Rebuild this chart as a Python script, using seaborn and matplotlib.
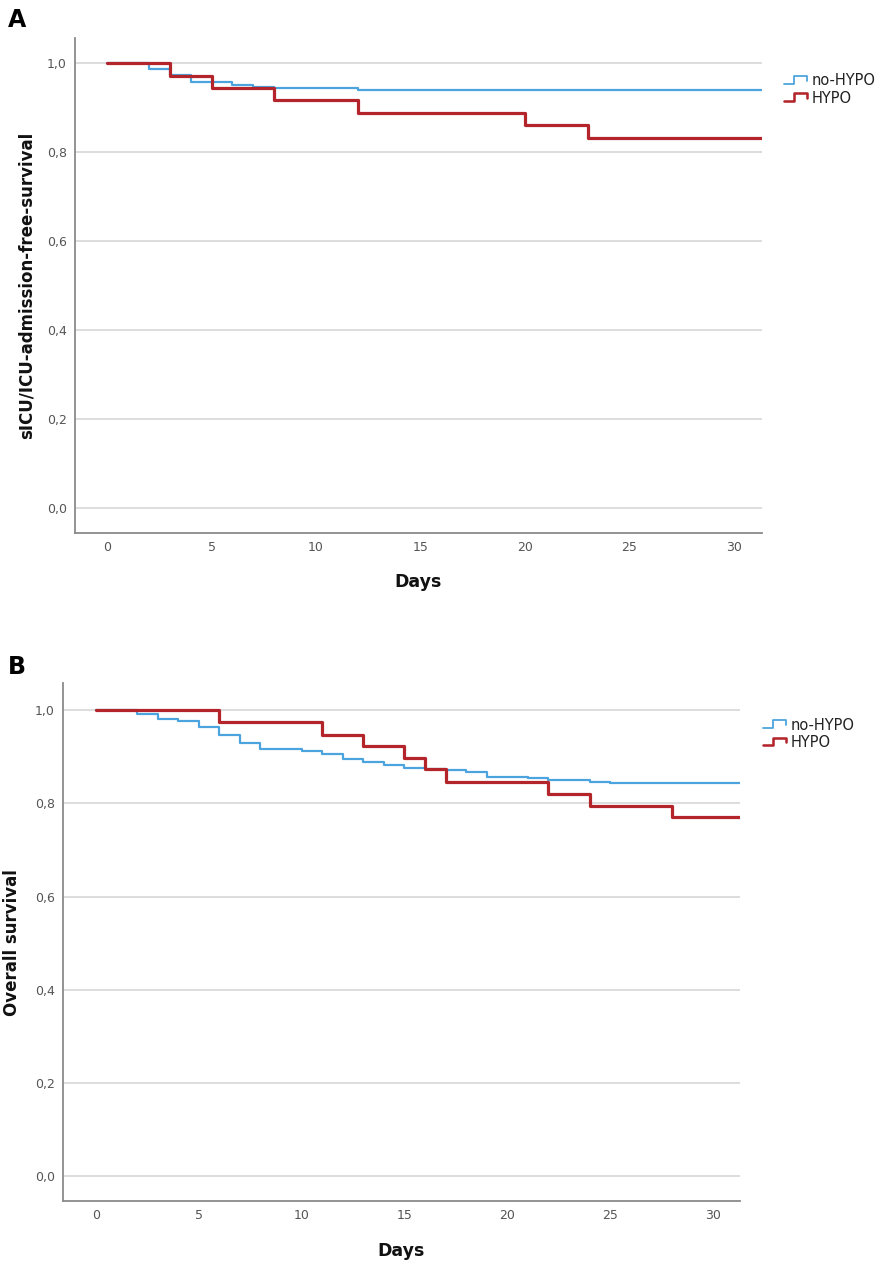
import numpy as np
import pandas as pd
import matplotlib
matplotlib.use("Agg")
import matplotlib.pyplot as plt
from matplotlib.lines import Line2D
from matplotlib.legend_handler import HandlerBase
from matplotlib.ticker import FuncFormatter
import seaborn as sns

# --- data ---
# Panel A: sICU/ICU-admission-free survival
a_nohypo_days = [0, 2, 3, 4, 6, 7, 8, 12, 32]
a_nohypo_surv = [1.0, 0.986, 0.973, 0.957, 0.951, 0.947, 0.944, 0.940, 0.940]
a_hypo_days = [0, 3, 5, 8, 12, 20, 23, 32]
a_hypo_surv = [1.0, 0.972, 0.944, 0.917, 0.889, 0.861, 0.833, 0.833]

# Panel B: overall survival
b_nohypo_days = [0, 2, 3, 4, 5, 6, 7, 8, 10, 11, 12, 13, 14, 15, 16, 17, 18,
                 19, 21, 22, 24, 25, 32]
b_nohypo_surv = [1.0, 0.993, 0.982, 0.977, 0.964, 0.946, 0.930, 0.916, 0.912,
                 0.906, 0.896, 0.889, 0.882, 0.876, 0.873, 0.871, 0.868, 0.857,
                 0.854, 0.850, 0.846, 0.843, 0.843]
b_hypo_days = [0, 6, 11, 13, 15, 16, 17, 22, 24, 28, 32]
b_hypo_surv = [1.0, 0.975, 0.948, 0.923, 0.898, 0.873, 0.846, 0.820, 0.795,
               0.771, 0.771]

groups = ["no-HYPO", "HYPO"]
x_ticks = [0, 5, 10, 15, 20, 25, 30]
y_ticks = [0.0, 0.2, 0.4, 0.6, 0.8, 1.0]

colors = {"no-HYPO": "#4ba4dd", "HYPO": "#b3242b"}
widths = {"no-HYPO": 1.6, "HYPO": 2.3}


def make_long(nohypo_d, nohypo_s, hypo_d, hypo_s):
    parts = [
        pd.DataFrame({"day": nohypo_d, "surv": nohypo_s, "group": "no-HYPO"}),
        pd.DataFrame({"day": hypo_d, "surv": hypo_s, "group": "HYPO"}),
    ]
    return pd.concat(parts, ignore_index=True)


class StepHandler(HandlerBase):
    # SPSS-style little step glyph in the legend
    def create_artists(self, legend, orig_handle, xdescent, ydescent,
                       width, height, fontsize, trans):
        x0 = -xdescent
        xs = [x0, x0 + 0.45 * width, x0 + 0.45 * width, x0 + width, x0 + width]
        ys = [-ydescent + f * height for f in (0.15, 0.15, 0.9, 0.9, 0.45)]
        ln = Line2D(xs, ys, color=orig_handle.get_color(),
                    lw=orig_handle.get_linewidth() * 0.8, transform=trans)
        return [ln]


sns.set_style("white")
plt.rcParams["font.family"] = ["DejaVu Sans"]

fig = plt.figure(figsize=(8.87, 12.63), dpi=100)
ax_a = fig.add_axes([0.0846, 0.578, 0.7745, 0.392])
ax_b = fig.add_axes([0.071, 0.049, 0.763, 0.410])

panels = [
    (ax_a, make_long(a_nohypo_days, a_nohypo_surv, a_hypo_days, a_hypo_surv),
     "sICU/ICU-admission-free-survival", (-1.53, 31.34), (-0.056, 1.057),
     -0.058, -0.081, (1.023, 0.94)),
    (ax_b, make_long(b_nohypo_days, b_nohypo_surv, b_hypo_days, b_hypo_surv),
     "Overall survival", (-1.6, 31.3), (-0.054, 1.058),
     -0.062, -0.079, (1.025, 0.945)),
]

comma_fmt = FuncFormatter(lambda v, _: f"{v:.1f}".replace(".", ","))

for ax, df, ylabel, xlim, ylim, ylab_x, xlab_y, leg_pos in panels:
    for y in y_ticks:
        ax.axhline(y, color="#d3d3d3", lw=1.1, zorder=0)
    sns.lineplot(data=df, x="day", y="surv", hue="group", hue_order=groups,
                 size="group", sizes=widths, palette=colors,
                 drawstyle="steps-post", estimator=None, legend=False, ax=ax)
    ax.set_xlim(*xlim)
    ax.set_ylim(*ylim)
    ax.set_xticks(x_ticks)
    ax.set_yticks(y_ticks)
    ax.yaxis.set_major_formatter(comma_fmt)
    ax.tick_params(length=0, labelsize=9, colors="#555555", pad=6)
    for s in ["top", "right"]:
        ax.spines[s].set_visible(False)
    for s in ["left", "bottom"]:
        ax.spines[s].set_color("#8a8a8a")
        ax.spines[s].set_linewidth(1.3)
    ax.set_xlabel("Days", fontsize=12.5, fontweight="bold", color="#111111")
    ax.set_ylabel(ylabel, fontsize=12, fontweight="bold", color="#111111")
    ax.xaxis.set_label_coords(0.5, xlab_y)
    ax.yaxis.set_label_coords(ylab_x, 0.5)

    handles = [Line2D([], [], color=colors[g], lw=widths[g]) for g in groups]
    leg = ax.legend(handles, groups, loc="upper left", bbox_to_anchor=leg_pos,
                    frameon=False, fontsize=10.5, handlelength=1.6,
                    handletextpad=0.3, labelspacing=0.15, borderaxespad=0,
                    handler_map={Line2D: StepHandler()})
    for t in leg.get_texts():
        t.set_color("#222222")

fig.text(0.009, 1 - 8 / 1263, "A", fontsize=17, fontweight="bold",
         va="top", color="black")
fig.text(0.009, 1 - 655 / 1263, "B", fontsize=17, fontweight="bold",
         va="top", color="black")

fig.savefig("out.png", dpi=100)
